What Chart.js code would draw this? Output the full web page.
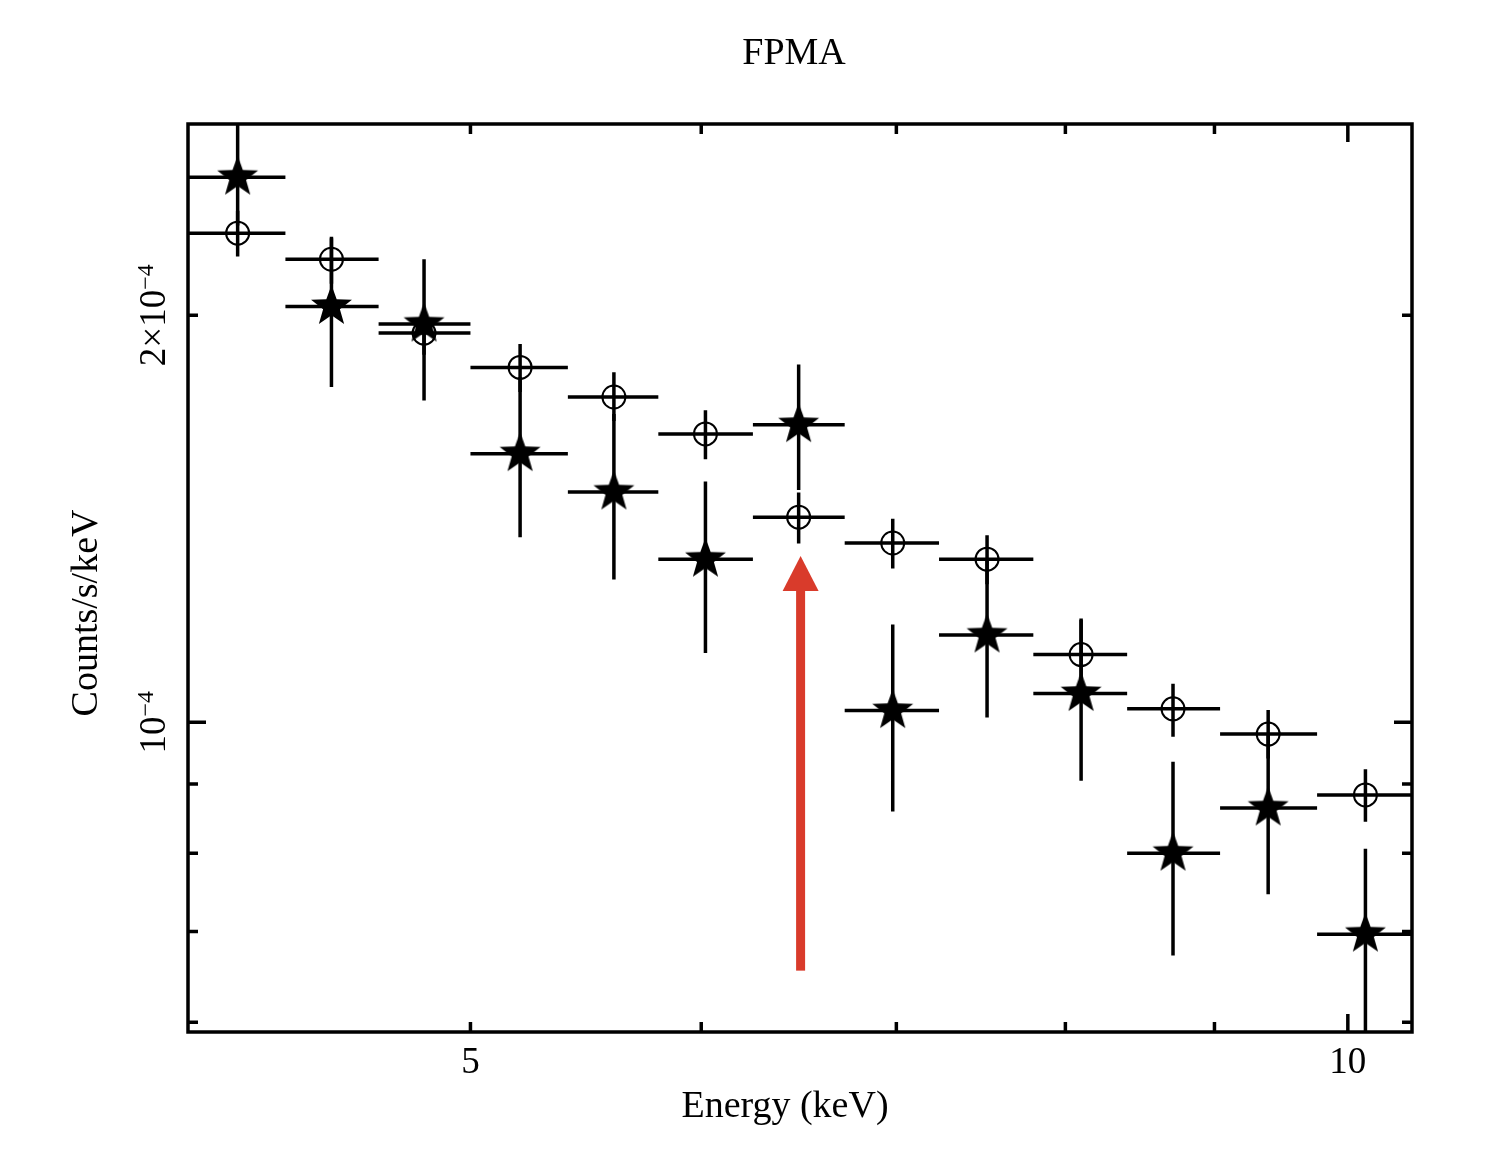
<!DOCTYPE html>
<html>
<head>
<meta charset="utf-8">
<title>FPMA</title>
<script src="https://cdn.jsdelivr.net/npm/chart.js@4.4.1/dist/chart.umd.min.js"></script>
<style>
  html, body { margin: 0; padding: 0; background: #fff; }
  canvas { display: block; }
</style>
</head>
<body>
<canvas id="spectrum" width="1500" height="1164"></canvas>
<script>
/* Energy bins (keV): lower edge, upper edge, centre */
var binLo  = [4.00, 4.32, 4.65, 5.00, 5.40, 5.80, 6.25, 6.72, 7.24, 7.80, 8.40, 9.04, 9.76];
var binHi  = [4.32, 4.65, 5.00, 5.40, 5.80, 6.25, 6.72, 7.24, 7.80, 8.40, 9.04, 9.76, 10.52];
var binMid = [4.16, 4.48, 4.82, 5.20, 5.60, 6.02, 6.48, 6.98, 7.52, 8.10, 8.71, 9.39, 10.14];

/* Filled stars: counts/s/keV and error bar ends */
var starRate = [2.53e-4, 2.03e-4, 1.97e-4, 1.58e-4, 1.48e-4, 1.32e-4, 1.66e-4, 1.02e-4, 1.16e-4, 1.05e-4, 0.80e-4, 0.864e-4, 0.697e-4];
var starLo   = [2.33e-4, 1.77e-4, 1.73e-4, 1.37e-4, 1.275e-4, 1.125e-4, 1.485e-4, 0.859e-4, 1.008e-4, 0.905e-4, 0.672e-4, 0.746e-4, 0.57e-4];
var starHi   = [2.95e-4, 2.28e-4, 2.20e-4, 1.80e-4, 1.69e-4, 1.507e-4, 1.839e-4, 1.181e-4, 1.32e-4, 1.19e-4, 0.935e-4, 0.98e-4, 0.806e-4];

/* Open circles: counts/s/keV and error bar ends */
var circRate = [2.30e-4, 2.20e-4, 1.94e-4, 1.83e-4, 1.74e-4, 1.634e-4, 1.418e-4, 1.357e-4, 1.32e-4, 1.122e-4, 1.023e-4, 0.98e-4, 0.8835e-4];
var circLo   = [2.21e-4, 2.11e-4, 1.87e-4, 1.755e-4, 1.67e-4, 1.565e-4, 1.356e-4, 1.299e-4, 1.265e-4, 1.05e-4, 0.9755e-4, 0.94e-4, 0.844e-4];
var circHi   = [2.39e-4, 2.286e-4, 2.02e-4, 1.904e-4, 1.815e-4, 1.701e-4, 1.479e-4, 1.414e-4, 1.375e-4, 1.193e-4, 1.0675e-4, 1.021e-4, 0.923e-4];

/* Axis ticks and labels */
var xMinorTicks = [5, 6, 7, 8, 9];
var xMajorTicks = [10];
var xLabelVals  = [5, 10];
var xLabels     = ['5', '10'];
var yMinorTicks = [6e-5, 7e-5, 8e-5, 9e-5, 2e-4];
var yMajorTicks = [1e-4];
var yLabelVals  = [1e-4, 2e-4];
var yLabelBase  = ['10', '2\u00d710'];
var yLabelExp   = ['\u22124', '\u22124'];

/* Red arrow marker (keV, counts/s/keV) */
var arrowE = 6.49;
var arrowFrom = 0.655e-4;
var arrowTo = 1.327e-4;

var FONT = "'Liberation Serif', 'Times New Roman', serif";

/* filled five point star used as point style */
function starImage(R) {
  var c = document.createElement('canvas');
  var s = Math.ceil(2 * R + 4);
  c.width = s; c.height = s;
  var g = c.getContext('2d');
  g.beginPath();
  for (var i = 0; i < 10; i++) {
    var ang = -Math.PI / 2 + i * Math.PI / 5;
    var rr = (i % 2) ? R * 0.41 : R;
    g.lineTo(s / 2 + rr * Math.cos(ang), s / 2 + rr * Math.sin(ang));
  }
  g.closePath();
  g.fillStyle = '#000';
  g.fill();
  return c;
}

/* error bar segments, broken by null points */
function hBars(lo, hi, v) {
  var pts = [];
  for (var i = 0; i < v.length; i++) {
    pts.push({x: lo[i], y: v[i]}, {x: hi[i], y: v[i]}, {x: hi[i], y: null});
  }
  return pts;
}
function vBars(mid, lo, hi) {
  var pts = [];
  for (var i = 0; i < mid.length; i++) {
    pts.push({x: mid[i], y: lo[i]}, {x: mid[i], y: hi[i]}, {x: mid[i], y: null});
  }
  return pts;
}
function points(mid, v) {
  return mid.map(function (e, i) { return {x: e, y: v[i]}; });
}

function barSet(data) {
  return {
    data: data, showLine: true, spanGaps: false,
    borderColor: '#000', borderWidth: 3.5, pointRadius: 0,
    borderCapStyle: 'butt', tension: 0, clip: 0
  };
}

/* frame, inward ticks, arrow and all text */
var decor = {
  id: 'decor',
  afterDatasetsDraw: function (chart) {
    var ctx = chart.ctx, a = chart.chartArea;
    var xs = chart.scales.x, ys = chart.scales.y;
    ctx.save();

    // arrow
    var ax = xs.getPixelForValue(arrowE);
    var yb = ys.getPixelForValue(arrowFrom);
    var yt = ys.getPixelForValue(arrowTo);
    ctx.fillStyle = '#d93b2b';
    ctx.fillRect(ax - 4.5, yt + 33, 9, yb - yt - 33);
    ctx.beginPath();
    ctx.moveTo(ax, yt);
    ctx.lineTo(ax - 18, yt + 35);
    ctx.lineTo(ax + 18, yt + 35);
    ctx.closePath();
    ctx.fill();

    // frame
    ctx.strokeStyle = '#000';
    ctx.lineWidth = 3.5;
    ctx.strokeRect(a.left, a.top, a.right - a.left, a.bottom - a.top);

    // ticks on all four sides, pointing inwards
    ctx.beginPath();
    function xt(v, len) {
      var p = xs.getPixelForValue(v);
      ctx.moveTo(p, a.bottom); ctx.lineTo(p, a.bottom - len);
      ctx.moveTo(p, a.top); ctx.lineTo(p, a.top + len);
    }
    function yt2(v, len) {
      var p = ys.getPixelForValue(v);
      ctx.moveTo(a.left, p); ctx.lineTo(a.left + len, p);
      ctx.moveTo(a.right, p); ctx.lineTo(a.right - len, p);
    }
    xMinorTicks.forEach(function (v) { xt(v, 10); });
    xMajorTicks.forEach(function (v) { xt(v, 18); });
    yMinorTicks.forEach(function (v) { yt2(v, 10); });
    yMajorTicks.forEach(function (v) { yt2(v, 18); });
    ctx.stroke();

    ctx.fillStyle = '#000';

    // x tick labels
    ctx.font = '37px ' + FONT;
    ctx.textAlign = 'center';
    ctx.textBaseline = 'alphabetic';
    xLabelVals.forEach(function (v, i) {
      ctx.fillText(xLabels[i], xs.getPixelForValue(v), 1073);
    });

    // y tick labels, rotated, with superscript exponent
    yLabelVals.forEach(function (v, i) {
      var p = ys.getPixelForValue(v);
      ctx.save();
      ctx.translate(165, p);
      ctx.rotate(-Math.PI / 2);
      ctx.textAlign = 'left';
      ctx.font = '37px ' + FONT;
      var wb = ctx.measureText(yLabelBase[i]).width;
      ctx.font = '24px ' + FONT;
      var we = ctx.measureText(yLabelExp[i]).width;
      var x0 = -(wb + we) / 2;
      ctx.font = '37px ' + FONT;
      ctx.fillText(yLabelBase[i], x0, 0);
      ctx.font = '24px ' + FONT;
      ctx.fillText(yLabelExp[i], x0 + wb, -12);
      ctx.restore();
    });

    // titles
    ctx.textAlign = 'center';
    ctx.font = '38px ' + FONT;
    ctx.fillText('FPMA', 794, 64);
    ctx.fillText('Energy (keV)', 785, 1117);
    ctx.save();
    ctx.translate(97, 613);
    ctx.rotate(-Math.PI / 2);
    ctx.fillText('Counts/s/keV', 0, 0);
    ctx.restore();

    ctx.restore();
  }
};

var ctx = document.getElementById('spectrum');

var spectrum = new Chart(ctx, {
  type: 'line',
  data: {
    datasets: [
      {
        data: points(binMid, starRate), showLine: false,
        pointStyle: starImage(21.5), pointRadius: 21, clip: 0
      },
      {
        data: points(binMid, circRate), showLine: false,
        pointStyle: 'circle', pointRadius: 11.5, pointBorderWidth: 2,
        pointBorderColor: '#000', pointBackgroundColor: 'rgba(0,0,0,0)', clip: 0
      },
      barSet(hBars(binLo, binHi, starRate)),
      barSet(vBars(binMid, starLo, starHi)),
      barSet(hBars(binLo, binHi, circRate)),
      barSet(vBars(binMid, circLo, circHi))
    ]
  },
  options: {
    responsive: false,
    devicePixelRatio: 1,
    animation: false,
    events: [],
    layout: {padding: {left: 188, top: 124, right: 88, bottom: 132}},
    plugins: {legend: {display: false}, tooltip: {enabled: false}, title: {display: false}},
    scales: {
      x: {type: 'logarithmic', min: 4.0, max: 10.52, display: false},
      y: {type: 'logarithmic', min: 5.9e-5, max: 2.77e-4, display: false}
    }
  },
  plugins: [decor]
});
</script>
</body>
</html>
